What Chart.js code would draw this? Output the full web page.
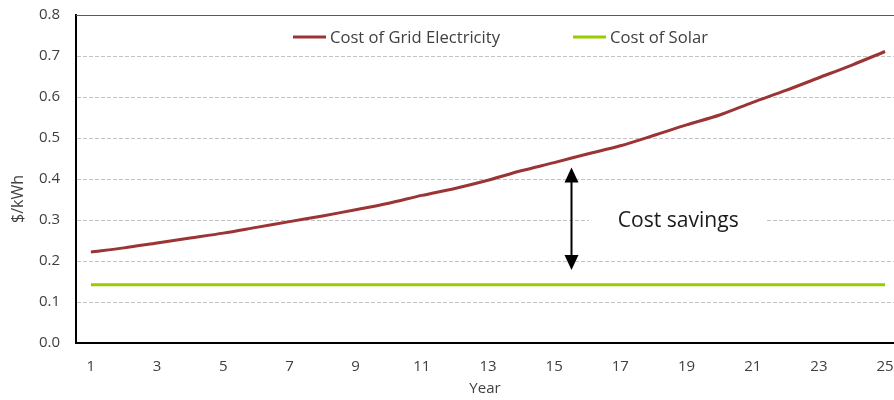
<!DOCTYPE html>
<html>
<head>
<meta charset="utf-8">
<script src="https://cdn.jsdelivr.net/npm/chart.js@4.4.1/dist/chart.umd.min.js"></script>
<style>
  html, body { margin: 0; padding: 0; background: #ffffff; }
  #wrap { width: 894px; height: 400px; }
</style>
</head>
<body>
<div id="wrap"><canvas id="c" width="894" height="400"></canvas></div>
<script>
// Years of the projection
const years = [1, 2, 3, 4, 5, 6, 7, 8, 9, 10, 11, 12, 13, 14, 15, 16, 17, 18, 19, 20, 21, 22, 23, 24, 25];
// Cost of grid electricity, $/kWh
const gridCost = [0.222, 0.232, 0.244, 0.256, 0.268, 0.282, 0.296, 0.310, 0.325, 0.341, 0.360, 0.377, 0.397,
                  0.420, 0.440, 0.461, 0.481, 0.506, 0.532, 0.556, 0.587, 0.616, 0.647, 0.678, 0.711];
// Cost of solar, $/kWh (flat)
const solarCost = [0.142, 0.142, 0.142, 0.142, 0.142, 0.142, 0.142, 0.142, 0.142, 0.142, 0.142, 0.142, 0.142,
                   0.142, 0.142, 0.142, 0.142, 0.142, 0.142, 0.142, 0.142, 0.142, 0.142, 0.142, 0.142];
// Labelled years on the x axis
const xTickLabels = [1, 3, 5, 7, 9, 11, 13, 15, 17, 19, 21, 23, 25];
// Series names
const seriesNames = ['Cost of Grid Electricity', 'Cost of Solar'];
// Savings arrow: year and the two $/kWh ends
const arrowYear = 15.5;
const arrowEnds = [0.428, 0.178];
const savingsText = 'Cost savings';

const FONT = '"Open Sans", "DejaVu Sans", sans-serif';
const TEXT_COLOR = '#404040';

const toXY = (vals) => vals.map((v, i) => ({ x: years[i], y: v }));

const decorations = {
  id: 'decorations',
  beforeDatasetsDraw(chart) {
    const { ctx, chartArea, scales } = chart;
    const y = scales.y, x = scales.x;
    ctx.save();
    // solid top frame line
    ctx.strokeStyle = '#595959';
    ctx.lineWidth = 1;
    ctx.beginPath();
    const yt = Math.round(y.getPixelForValue(0.8)) + 0.5;
    ctx.moveTo(chartArea.left, yt);
    ctx.lineTo(chartArea.right, yt);
    ctx.stroke();

    // white box behind savings label
    const ty = y.getPixelForValue(0.3);
    const bx0 = x.getPixelForValue(16.05), bx1 = x.getPixelForValue(21.4);
    ctx.fillStyle = '#ffffff';
    ctx.fillRect(bx0, ty - 14, bx1 - bx0, 28);
    ctx.restore();
  },
  afterDatasetsDraw(chart) {
    const { ctx, scales } = chart;
    const x = scales.x, y = scales.y;
    ctx.save();

    // savings label
    ctx.fillStyle = '#1a1a1a';
    ctx.font = '22px ' + FONT;
    ctx.textAlign = 'center';
    ctx.textBaseline = 'middle';
    ctx.fillText(savingsText, x.getPixelForValue(18.75), y.getPixelForValue(0.3) + 1, 121);

    // double-headed arrow
    const ax = Math.round(x.getPixelForValue(arrowYear)) + 0.5;
    const top = y.getPixelForValue(arrowEnds[0]);
    const bot = y.getPixelForValue(arrowEnds[1]);
    const hw = 7, hh = 15;
    ctx.strokeStyle = '#000000';
    ctx.fillStyle = '#000000';
    ctx.lineWidth = 2;
    ctx.beginPath();
    ctx.moveTo(ax, top + hh - 2);
    ctx.lineTo(ax, bot - hh + 2);
    ctx.stroke();
    ctx.beginPath();
    ctx.moveTo(ax, top);
    ctx.lineTo(ax - hw, top + hh);
    ctx.lineTo(ax + hw, top + hh);
    ctx.closePath();
    ctx.fill();
    ctx.beginPath();
    ctx.moveTo(ax, bot);
    ctx.lineTo(ax - hw, bot - hh);
    ctx.lineTo(ax + hw, bot - hh);
    ctx.closePath();
    ctx.fill();

    // legend inside the plot
    const items = [
      { ds: chart.data.datasets[0], lx: 293, w: 170 },
      { ds: chart.data.datasets[1], lx: 573, w: 98 }
    ];
    const ly = 37;
    ctx.textAlign = 'left';
    ctx.textBaseline = 'middle';
    ctx.font = '17px ' + FONT;
    items.forEach(it => {
      ctx.strokeStyle = it.ds.borderColor;
      ctx.lineWidth = 3;
      ctx.beginPath();
      ctx.moveTo(it.lx, ly);
      ctx.lineTo(it.lx + 33, ly);
      ctx.stroke();
      ctx.fillStyle = TEXT_COLOR;
      ctx.fillText(it.ds.label, it.lx + 37, ly + 1, it.w);
    });

    // y axis title
    ctx.save();
    ctx.translate(18, 199);
    ctx.rotate(-Math.PI / 2);
    ctx.textAlign = 'center';
    ctx.textBaseline = 'middle';
    ctx.font = '16px ' + FONT;
    ctx.fillStyle = TEXT_COLOR;
    ctx.fillText('$/kWh', 0, 0);
    ctx.restore();

    ctx.restore();
  }
};

new Chart(document.getElementById('c'), {
  type: 'line',
  data: {
    datasets: [
      {
        label: seriesNames[0],
        data: toXY(gridCost),
        borderColor: '#9b3434',
        borderWidth: 3,
        pointRadius: 0,
        tension: 0.3,
        fill: false
      },
      {
        label: seriesNames[1],
        data: toXY(solarCost),
        borderColor: '#99cc00',
        borderWidth: 3,
        pointRadius: 0,
        tension: 0,
        fill: false
      }
    ]
  },
  options: {
    responsive: false,
    animation: false,
    layout: { padding: { top: 15, right: 0, left: 0, bottom: 0 } },
    plugins: {
      legend: { display: false },
      tooltip: { enabled: false }
    },
    scales: {
      x: {
        type: 'linear',
        min: 0.55,
        max: 25.27,
        afterBuildTicks(scale) {
          scale.ticks = xTickLabels.map(v => ({ value: v }));
        },
        afterFit(scale) {
          scale.height = 57;
          scale.paddingLeft = 0;
          scale.paddingRight = 0;
        },
        grid: { display: false, drawTicks: false },
        border: { display: true, color: '#000000', width: 2 },
        ticks: {
          padding: 15,
          maxRotation: 0,
          autoSkip: false,
          color: TEXT_COLOR,
          font: { family: FONT, size: 15 }
        },
        title: {
          display: true,
          text: 'Year',
          color: TEXT_COLOR,
          font: { family: FONT, size: 15 },
          padding: { top: 0, bottom: 2 }
        }
      },
      y: {
        min: 0,
        max: 0.8,
        afterFit(scale) {
          scale.width = 76;
          scale.paddingTop = 0;
          scale.paddingBottom = 0;
        },
        grid: {
          color: '#c4c4c4',
          lineWidth: 1,
          drawTicks: false
        },
        border: { display: true, color: '#000000', width: 2, dash: [4, 2] },
        ticks: {
          stepSize: 0.1,
          padding: 16,
          color: TEXT_COLOR,
          font: { family: FONT, size: 15 },
          callback: (v) => Number(v).toFixed(1)
        }
      }
    }
  },
  plugins: [decorations]
});
</script>
</body>
</html>
